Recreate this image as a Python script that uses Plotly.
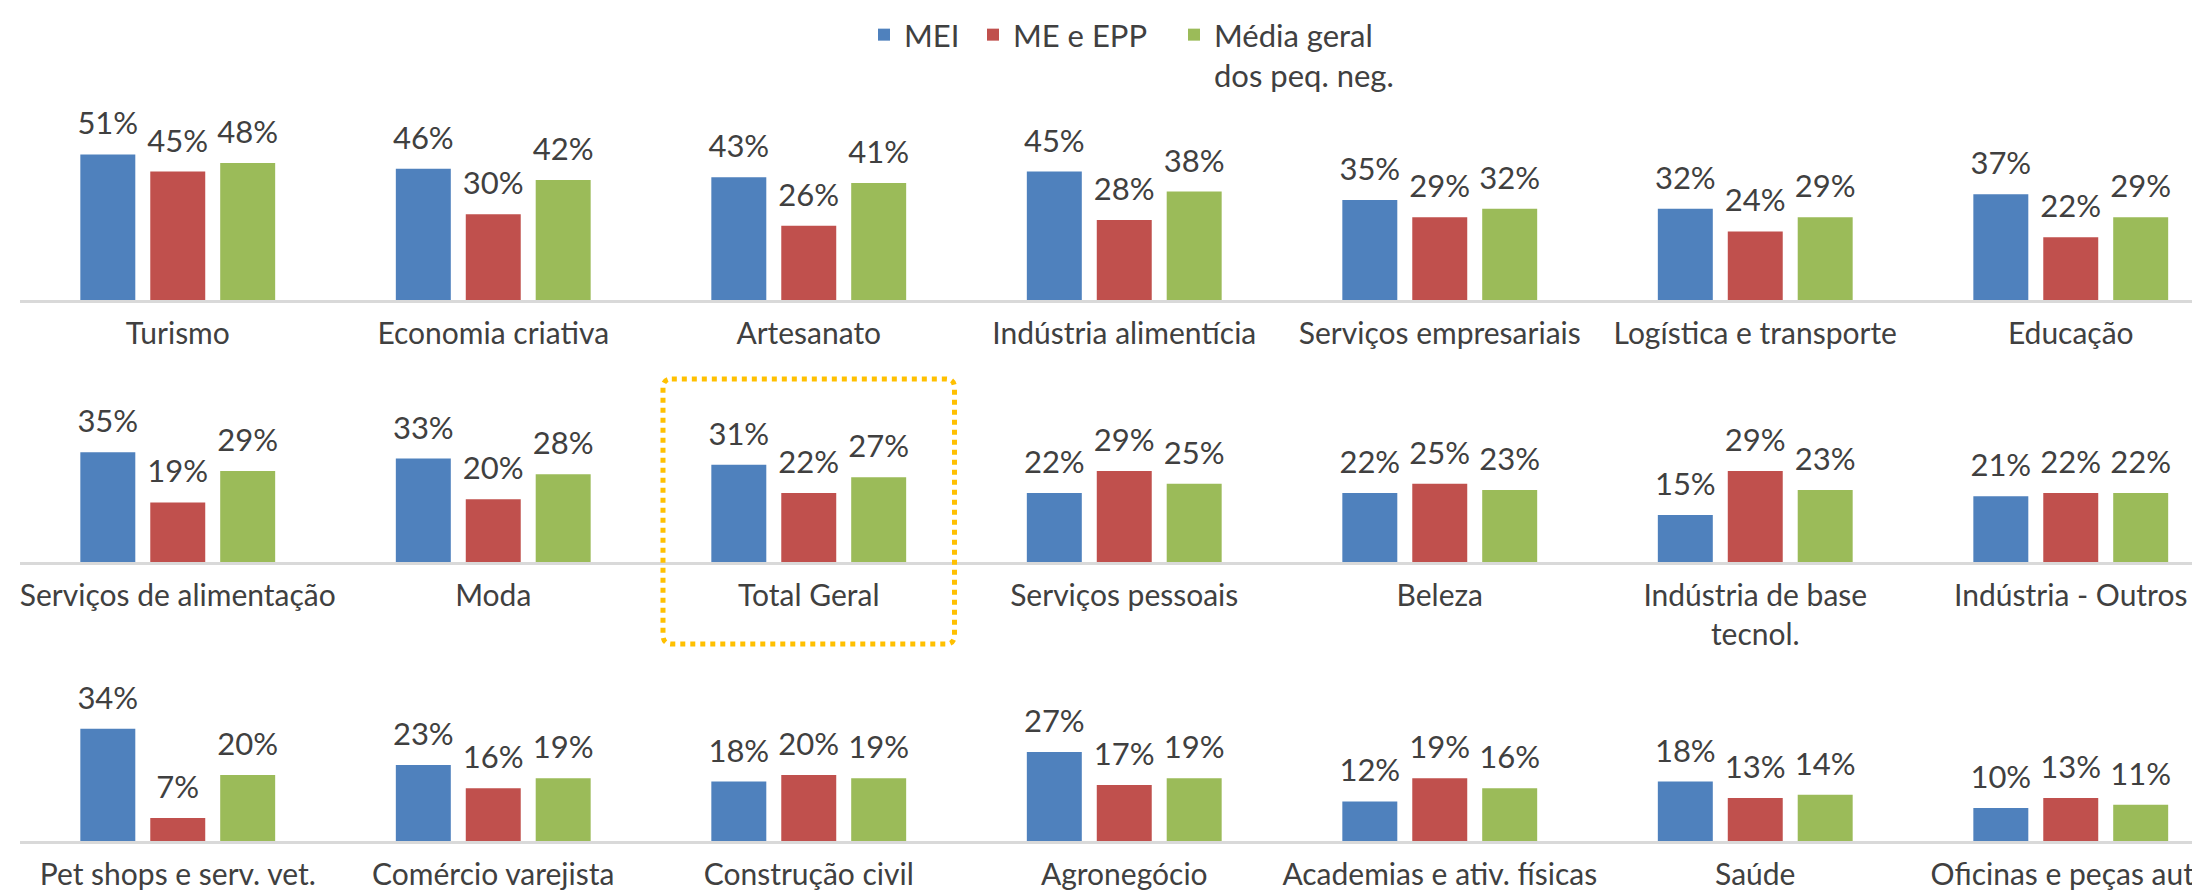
import plotly.graph_objects as go

# valores (%)
series = ["MEI", "ME e EPP", "Média geral<br>dos peq. neg."]
cores = ["#4F81BD", "#C0504D", "#9BBB59"]

setores_1 = ["Turismo", "Economia criativa", "Artesanato", "Indústria alimentícia",
             "Serviços empresariais", "Logística e transporte", "Educação"]
mei_1 = [51, 46, 43, 45, 35, 32, 37]
me_1 = [45, 30, 26, 28, 29, 24, 22]
media_1 = [48, 42, 41, 38, 32, 29, 29]

setores_2 = ["Serviços de alimentação", "Moda", "Total Geral", "Serviços pessoais",
             "Beleza", "Indústria de base<br>tecnol.", "Indústria - Outros"]
mei_2 = [35, 33, 31, 22, 22, 15, 21]
me_2 = [19, 20, 22, 29, 25, 29, 22]
media_2 = [29, 28, 27, 25, 23, 23, 22]

setores_3 = ["Pet shops e serv. vet.", "Comércio varejista", "Construção civil", "Agronegócio",
             "Academias e ativ. físicas", "Saúde", "Oficinas e peças auto"]
mei_3 = [34, 23, 18, 27, 12, 18, 10]
me_3 = [7, 16, 20, 17, 19, 13, 13]
media_3 = [20, 19, 19, 19, 16, 14, 11]

linhas = [
    (setores_1, [mei_1, me_1, media_1]),
    (setores_2, [mei_2, me_2, media_2]),
    (setores_3, [mei_3, me_3, media_3]),
]

FONTE = "Lato, 'Open Sans', sans-serif"
CINZA = "#404040"
TAM_EIXO = 30
TAM_ROT = 31
W, H = 2200, 890

# posição de cada linha em pixels (base do eixo) e escala px por %
bases = [292, 554, 833]
escalas = [2.855, 3.135, 3.3]
altura = 190
# posição (px) à esquerda de cada legenda
pos_legenda = [856, 965, 1166]
legendas = ["legend", "legend2", "legend3"]

fig = go.Figure()

for i, (cats, valores) in enumerate(linhas):
    n = "" if i == 0 else str(i + 1)
    for j, nome in enumerate(series):
        fig.add_trace(go.Bar(
            x=cats, y=valores[j], name=nome, offsetgroup=str(j),
            marker=dict(color=cores[j], line=dict(width=0)),
            legend=legendas[j], legendgroup=nome, showlegend=(i == 0),
            hoverinfo="skip", xaxis="x" + n, yaxis="y" + n,
        ))
        # rótulos de dados
        fig.add_trace(go.Scatter(
            x=cats, y=valores[j], offsetgroup=str(j), mode="markers+text",
            marker=dict(size=18, opacity=0),
            text=[f"{v}%" for v in valores[j]], textposition="top center",
            textfont=dict(size=TAM_ROT, color=CINZA, family=FONTE),
            cliponaxis=False, showlegend=False, hoverinfo="skip",
            xaxis="x" + n, yaxis="y" + n,
        ))
    y0 = (H - bases[i]) / H
    y1 = (H - bases[i] + altura) / H
    fig.update_layout(**{
        "xaxis" + n: dict(
            domain=[12 / W, 1], range=[-0.5, 6.435], type="category",
            showline=True, linecolor="#D9D9D9", linewidth=2.5,
            showgrid=False, zeroline=False, ticks="",
            ticklabelstandoff=5, automargin=False,
            tickfont=dict(size=TAM_EIXO, color=CINZA, family=FONTE),
            anchor="y" + n, fixedrange=True,
        ),
        "yaxis" + n: dict(
            domain=[y0, y1], range=[0, altura / escalas[i]],
            visible=False, anchor="x" + n, fixedrange=True, automargin=False,
        ),
    })

# caixa pontilhada em torno de "Total Geral"
k = setores_2.index("Total Geral")
xa, xb = k - 0.462, k + 0.462
ya, yb = (H - 636) / H, (H - 371) / H
rx, ry = 0.028, 9 / H
caminho = (f"M {xa + rx},{yb} L {xb - rx},{yb} Q {xb},{yb} {xb},{yb - ry} "
           f"L {xb},{ya + ry} Q {xb},{ya} {xb - rx},{ya} "
           f"L {xa + rx},{ya} Q {xa},{ya} {xa},{ya + ry} "
           f"L {xa},{yb - ry} Q {xa},{yb} {xa + rx},{yb} Z")
fig.add_shape(type="path", path=caminho, xref="x2", yref="paper",
              line=dict(color="#FFC000", width=5, dash="dot"))

estilo_legenda = dict(
    orientation="h", xanchor="left", y=1, yanchor="top",
    valign="top", font=dict(size=TAM_ROT, color=CINZA, family=FONTE),
    itemclick=False, itemdoubleclick=False, bgcolor="rgba(0,0,0,0)",
)

fig.update_layout(
    width=W, height=H,
    margin=dict(l=0, r=0, t=0, b=0, autoexpand=False),
    paper_bgcolor="white", plot_bgcolor="white",
    barmode="group", bargap=0.335, bargroupgap=0.214,
    scattermode="group", scattergap=0.335,
    font=dict(family=FONTE, size=TAM_EIXO, color=CINZA),
    showlegend=True,
    **{leg: dict(estilo_legenda, x=p / W) for leg, p in zip(legendas, pos_legenda)},
)

fig.write_html("out.html")
